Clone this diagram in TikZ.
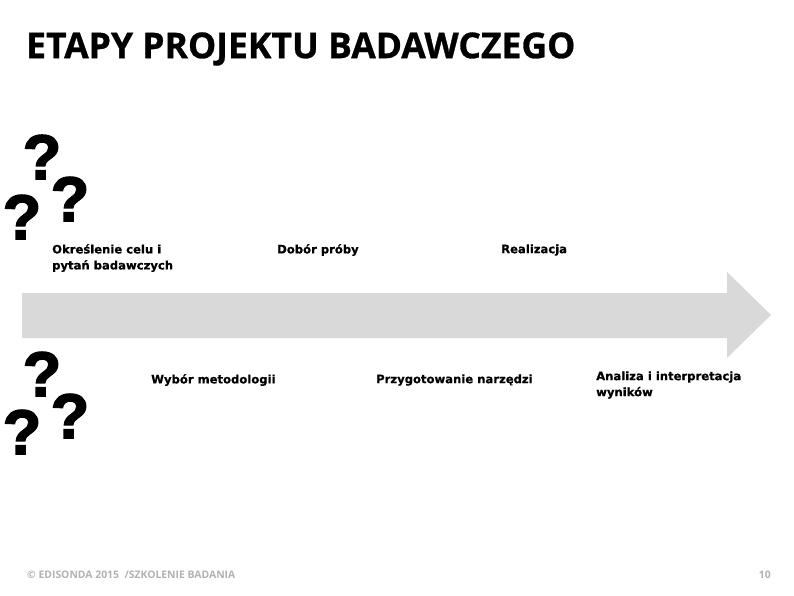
\documentclass[tikz,border=0pt]{standalone}
\usepackage{fontspec}
\setmainfont[BoldFeatures={FakeBold=0.6}]{DejaVu Sans}
\newfontfamily\titlefont[BoldFeatures={FakeBold=0.8}]{Open Sans}
\newfontfamily\qfont[BoldFeatures={FakeBold=2.5}]{Liberation Sans}
\newfontfamily\footfont{Open Sans}
\begin{document}
\begin{tikzpicture}[x=1pt,y=-1pt,
  lbl/.style={anchor=west,align=left,inner sep=0pt,font=\fontsize{11.6}{16}\selectfont\bfseries,text=black},
  qm/.style={inner sep=0pt,font=\fontsize{63}{63}\selectfont\qfont\bfseries},
  foot/.style={anchor=west,inner sep=0pt,font=\fontsize{10.4}{11}\selectfont\footfont\bfseries,text=black!30}]
\useasboundingbox (0,0) rectangle (794,596);
\fill[white] (0,0) rectangle (794,596);
\node[anchor=west,inner sep=0pt,font=\fontsize{35.5}{38}\selectfont\titlefont\bfseries] (title) at (26,49) {ETAPY PROJEKTU BADAWCZEGO};
% big arrow
\fill[black!15] (22,293) -- (727,293) -- (727,272) -- (771,315) -- (727,358) -- (727,338) -- (22,338) -- cycle;
% question marks
\node[qm] (q1) at (42,157) {?};
\node[qm] (q2) at (70,199) {?};
\node[qm] (q3) at (22,217) {?};
\node[qm] (q4) at (42,374) {?};
\node[qm] (q5) at (70,416) {?};
\node[qm] (q6) at (22,432) {?};
% labels
\node[lbl] (l1) at (52,258) {Określenie celu i\\pytań badawczych};
\node[lbl] (l2) at (277,250) {Dobór próby};
\node[lbl] (l3) at (501,250) {Realizacja};
\node[lbl] (l4) at (151,380) {Wybór metodologii};
\node[lbl] (l5) at (376,380) {Przygotowanie narzędzi};
\node[lbl] (l6) at (596,385) {Analiza i interpretacja\\wyników};
% footer
\node[foot] (f1) at (27,575) {© EDISONDA 2015~~/SZKOLENIE BADANIA};
\node[foot,anchor=east] (f2) at (771,575) {10};
\end{tikzpicture}
\end{document}
